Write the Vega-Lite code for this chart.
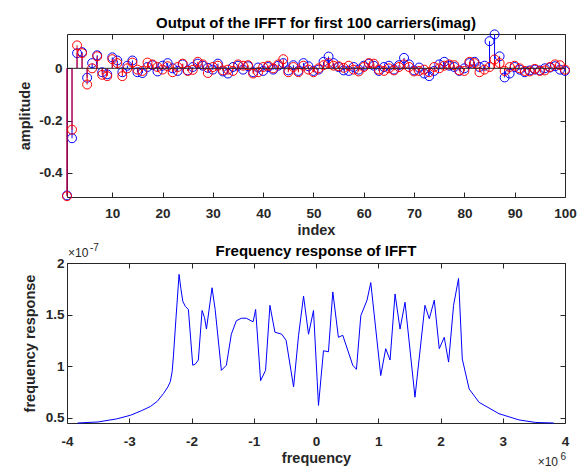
{
  "$schema": "https://vega.github.io/schema/vega-lite/v6.json",
  "padding": {"left": 17, "top": 15, "right": 10, "bottom": 0},
  "background": "white",
  "spacing": 4,
  "config": {
    "font": "Liberation Sans",
    "view": {"stroke": "#262626", "strokeWidth": 1},
    "axis": {"domain": false, "grid": false, "labelFlush": false, "tickColor": "#262626", "tickSize": -5, "labelFont": "Liberation Sans", "labelFontSize": 13.5, "labelFontWeight": "bold", "labelColor": "#262626", "titleFont": "Liberation Sans", "titleFontSize": 14.5, "titleFontWeight": "bold", "titleColor": "#262626", "labelPadding": 4},
    "title": {"font": "Liberation Sans", "fontSize": 15, "fontWeight": "bold", "color": "black", "frame": "group"}
  },
  "vconcat": [
    {
      "width": 498, "height": 163,
      "title": {"text": "Output of the IFFT for first 100 carriers(imag)", "offset": -3},
      "data": {"values": [
        {"i":1,"v":-0.487,"s":"b"},{"i":2,"v":-0.268,"s":"b"},{"i":3,"v":0.058,"s":"b"},{"i":4,"v":0.062,"s":"b"},{"i":5,"v":-0.036,"s":"b"},{"i":6,"v":0.02,"s":"b"},{"i":7,"v":0.05,"s":"b"},{"i":8,"v":-0.015,"s":"b"},{"i":9,"v":-0.023,"s":"b"},{"i":10,"v":0.042,"s":"b"},
        {"i":11,"v":0.03,"s":"b"},{"i":12,"v":-0.015,"s":"b"},{"i":13,"v":0.01,"s":"b"},{"i":14,"v":0.03,"s":"b"},{"i":15,"v":-0.015,"s":"b"},{"i":16,"v":-0.018,"s":"b"},{"i":17,"v":0.005,"s":"b"},{"i":18,"v":0.012,"s":"b"},{"i":19,"v":-0.012,"s":"b"},{"i":20,"v":0.01,"s":"b"},
        {"i":21,"v":0.02,"s":"b"},{"i":22,"v":0.0,"s":"b"},{"i":23,"v":-0.01,"s":"b"},{"i":24,"v":0.015,"s":"b"},{"i":25,"v":-0.008,"s":"b"},{"i":26,"v":0.005,"s":"b"},{"i":27,"v":0.018,"s":"b"},{"i":28,"v":0.01,"s":"b"},{"i":29,"v":0.002,"s":"b"},{"i":30,"v":-0.005,"s":"b"},
        {"i":31,"v":0.018,"s":"b"},{"i":32,"v":-0.012,"s":"b"},{"i":33,"v":-0.02,"s":"b"},{"i":34,"v":0.005,"s":"b"},{"i":35,"v":0.01,"s":"b"},{"i":36,"v":-0.005,"s":"b"},{"i":37,"v":0.008,"s":"b"},{"i":38,"v":-0.015,"s":"b"},{"i":39,"v":0.003,"s":"b"},{"i":40,"v":-0.01,"s":"b"},
        {"i":41,"v":0.005,"s":"b"},{"i":42,"v":-0.005,"s":"b"},{"i":43,"v":0.01,"s":"b"},{"i":44,"v":0.02,"s":"b"},{"i":45,"v":-0.008,"s":"b"},{"i":46,"v":0.012,"s":"b"},{"i":47,"v":-0.01,"s":"b"},{"i":48,"v":0.02,"s":"b"},{"i":49,"v":0.008,"s":"b"},{"i":50,"v":-0.01,"s":"b"},
        {"i":51,"v":-0.005,"s":"b"},{"i":52,"v":0.025,"s":"b"},{"i":53,"v":0.045,"s":"b"},{"i":54,"v":0.02,"s":"b"},{"i":55,"v":0.005,"s":"b"},{"i":56,"v":-0.008,"s":"b"},{"i":57,"v":-0.01,"s":"b"},{"i":58,"v":0.005,"s":"b"},{"i":59,"v":-0.005,"s":"b"},{"i":60,"v":0.01,"s":"b"},
        {"i":61,"v":0.018,"s":"b"},{"i":62,"v":0.01,"s":"b"},{"i":63,"v":-0.01,"s":"b"},{"i":64,"v":0.005,"s":"b"},{"i":65,"v":0.01,"s":"b"},{"i":66,"v":-0.005,"s":"b"},{"i":67,"v":0.012,"s":"b"},{"i":68,"v":0.04,"s":"b"},{"i":69,"v":0.015,"s":"b"},{"i":70,"v":-0.008,"s":"b"},
        {"i":71,"v":0.003,"s":"b"},{"i":72,"v":-0.02,"s":"b"},{"i":73,"v":-0.03,"s":"b"},{"i":74,"v":-0.01,"s":"b"},{"i":75,"v":0.015,"s":"b"},{"i":76,"v":0.025,"s":"b"},{"i":77,"v":0.01,"s":"b"},{"i":78,"v":0.005,"s":"b"},{"i":79,"v":-0.01,"s":"b"},{"i":80,"v":0.0,"s":"b"},
        {"i":81,"v":0.02,"s":"b"},{"i":82,"v":0.025,"s":"b"},{"i":83,"v":0.005,"s":"b"},{"i":84,"v":0.01,"s":"b"},{"i":85,"v":0.104,"s":"b"},{"i":86,"v":0.13,"s":"b"},{"i":87,"v":0.046,"s":"b"},{"i":88,"v":-0.035,"s":"b"},{"i":89,"v":-0.02,"s":"b"},{"i":90,"v":0.005,"s":"b"},
        {"i":91,"v":-0.005,"s":"b"},{"i":92,"v":-0.015,"s":"b"},{"i":93,"v":-0.008,"s":"b"},{"i":94,"v":-0.005,"s":"b"},{"i":95,"v":-0.008,"s":"b"},{"i":96,"v":0.0,"s":"b"},{"i":97,"v":0.003,"s":"b"},{"i":98,"v":0.008,"s":"b"},{"i":99,"v":-0.005,"s":"b"},{"i":100,"v":-0.01,"s":"b"},
        {"i":1,"v":-0.49,"s":"r"},{"i":2,"v":-0.235,"s":"r"},{"i":3,"v":0.088,"s":"r"},{"i":4,"v":0.058,"s":"r"},{"i":5,"v":-0.062,"s":"r"},{"i":6,"v":0.0,"s":"r"},{"i":7,"v":0.046,"s":"r"},{"i":8,"v":-0.025,"s":"r"},{"i":9,"v":-0.03,"s":"r"},{"i":10,"v":0.035,"s":"r"},
        {"i":11,"v":0.02,"s":"r"},{"i":12,"v":-0.03,"s":"r"},{"i":13,"v":0.0,"s":"r"},{"i":14,"v":0.022,"s":"r"},{"i":15,"v":-0.005,"s":"r"},{"i":16,"v":-0.01,"s":"r"},{"i":17,"v":0.022,"s":"r"},{"i":18,"v":0.015,"s":"r"},{"i":19,"v":0.005,"s":"r"},{"i":20,"v":-0.005,"s":"r"},
        {"i":21,"v":0.008,"s":"r"},{"i":22,"v":-0.015,"s":"r"},{"i":23,"v":0.005,"s":"r"},{"i":24,"v":0.018,"s":"r"},{"i":25,"v":-0.01,"s":"r"},{"i":26,"v":-0.006,"s":"r"},{"i":27,"v":0.025,"s":"r"},{"i":28,"v":0.015,"s":"r"},{"i":29,"v":-0.018,"s":"r"},{"i":30,"v":0.005,"s":"r"},
        {"i":31,"v":0.01,"s":"r"},{"i":32,"v":-0.008,"s":"r"},{"i":33,"v":-0.005,"s":"r"},{"i":34,"v":-0.01,"s":"r"},{"i":35,"v":0.015,"s":"r"},{"i":36,"v":0.01,"s":"r"},{"i":37,"v":0.012,"s":"r"},{"i":38,"v":-0.02,"s":"r"},{"i":39,"v":-0.015,"s":"r"},{"i":40,"v":0.005,"s":"r"},
        {"i":41,"v":0.01,"s":"r"},{"i":42,"v":0.0,"s":"r"},{"i":43,"v":0.015,"s":"r"},{"i":44,"v":0.035,"s":"r"},{"i":45,"v":-0.015,"s":"r"},{"i":46,"v":0.005,"s":"r"},{"i":47,"v":-0.015,"s":"r"},{"i":48,"v":0.01,"s":"r"},{"i":49,"v":-0.005,"s":"r"},{"i":50,"v":-0.015,"s":"r"},
        {"i":51,"v":0.0,"s":"r"},{"i":52,"v":0.012,"s":"r"},{"i":53,"v":0.02,"s":"r"},{"i":54,"v":0.01,"s":"r"},{"i":55,"v":0.008,"s":"r"},{"i":56,"v":0.002,"s":"r"},{"i":57,"v":0.01,"s":"r"},{"i":58,"v":-0.005,"s":"r"},{"i":59,"v":-0.012,"s":"r"},{"i":60,"v":0.005,"s":"r"},
        {"i":61,"v":0.02,"s":"r"},{"i":62,"v":0.018,"s":"r"},{"i":63,"v":-0.005,"s":"r"},{"i":64,"v":-0.01,"s":"r"},{"i":65,"v":0.0,"s":"r"},{"i":66,"v":-0.008,"s":"r"},{"i":67,"v":0.005,"s":"r"},{"i":68,"v":0.015,"s":"r"},{"i":69,"v":0.005,"s":"r"},{"i":70,"v":-0.012,"s":"r"},
        {"i":71,"v":-0.01,"s":"r"},{"i":72,"v":-0.005,"s":"r"},{"i":73,"v":-0.015,"s":"r"},{"i":74,"v":0.005,"s":"r"},{"i":75,"v":0.0,"s":"r"},{"i":76,"v":0.01,"s":"r"},{"i":77,"v":0.015,"s":"r"},{"i":78,"v":0.012,"s":"r"},{"i":79,"v":-0.008,"s":"r"},{"i":80,"v":-0.01,"s":"r"},
        {"i":81,"v":0.025,"s":"r"},{"i":82,"v":0.02,"s":"r"},{"i":83,"v":-0.015,"s":"r"},{"i":84,"v":-0.005,"s":"r"},{"i":85,"v":0.005,"s":"r"},{"i":86,"v":0.034,"s":"r"},{"i":87,"v":0.02,"s":"r"},{"i":88,"v":-0.01,"s":"r"},{"i":89,"v":0.005,"s":"r"},{"i":90,"v":0.01,"s":"r"},
        {"i":91,"v":0.0,"s":"r"},{"i":92,"v":-0.01,"s":"r"},{"i":93,"v":-0.012,"s":"r"},{"i":94,"v":-0.002,"s":"r"},{"i":95,"v":-0.01,"s":"r"},{"i":96,"v":-0.008,"s":"r"},{"i":97,"v":0.005,"s":"r"},{"i":98,"v":0.015,"s":"r"},{"i":99,"v":0.012,"s":"r"},{"i":100,"v":-0.005,"s":"r"}
      ]},
      "resolve": {"axis": {"x": "independent", "y": "independent"}},
      "layer": [
        {
          "transform": [{"filter": "datum.s === 'b'"}],
          "mark": {"type": "rule", "color": "#0000ff", "strokeWidth": 1},
          "encoding": {
            "x": {"field": "i", "type": "quantitative", "scale": {"domain": [1, 100], "nice": false, "zero": false},
                  "axis": {"orient": "bottom", "values": [10,20,30,40,50,60,70,80,90,100], "title": "index", "labelPadding": 14, "titlePadding": 4}},
            "y": {"field": "v", "type": "quantitative", "scale": {"domain": [-0.493, 0.1315], "nice": false, "zero": false},
                  "axis": {"orient": "left", "values": [-0.4,-0.2,0], "title": "amplitude", "labelExpr": "'' + datum.value", "labelPadding": 10, "titlePadding": 6}},
            "y2": {"datum": 0}
          }
        },
        {
          "transform": [{"filter": "datum.s === 'b'"}],
          "mark": {"type": "point", "shape": "circle", "filled": false, "color": "#0000ff", "size": 80, "strokeWidth": 1, "opacity": 1},
          "encoding": {
            "x": {"field": "i", "type": "quantitative", "axis": {"orient": "top", "values": [10,20,30,40,50,60,70,80,90,100], "labels": false, "title": null}},
            "y": {"field": "v", "type": "quantitative", "axis": {"orient": "right", "values": [-0.4,-0.2,0], "labels": false, "title": null}}
          }
        },
        {
          "transform": [{"filter": "datum.s === 'r'"}],
          "mark": {"type": "rule", "color": "#ff0000", "strokeWidth": 1},
          "encoding": {
            "x": {"field": "i", "type": "quantitative", "axis": null},
            "y": {"field": "v", "type": "quantitative", "axis": null},
            "y2": {"datum": 0}
          }
        },
        {
          "transform": [{"filter": "datum.s === 'r'"}],
          "mark": {"type": "point", "shape": "circle", "filled": false, "color": "#ff0000", "size": 80, "strokeWidth": 1, "opacity": 1},
          "encoding": {
            "x": {"field": "i", "type": "quantitative", "axis": null},
            "y": {"field": "v", "type": "quantitative", "axis": null}
          }
        },
        {
          "data": {"values": [{}]},
          "mark": {"type": "rule", "color": "#262626", "strokeWidth": 1},
          "encoding": {
            "y": {"datum": 0, "type": "quantitative", "axis": null}
          }
        }
      ]
    },
    {
      "width": 498, "height": 160,
      "title": {"text": "Frequency response of IFFT", "offset": -16},
      "data": {"values": [
        {"f":-3.83,"r":0.45},{"f":-3.5,"r":0.46},{"f":-3.2,"r":0.49},{"f":-2.98,"r":0.525},{"f":-2.8,"r":0.57},{"f":-2.66,"r":0.61},{"f":-2.55,"r":0.66},{"f":-2.45,"r":0.735},{"f":-2.38,"r":0.8},{"f":-2.34,"r":0.85},
        {"f":-2.31,"r":0.95},{"f":-2.29,"r":1.1},{"f":-2.25,"r":1.46},{"f":-2.2,"r":1.89},{"f":-2.17,"r":1.75},{"f":-2.14,"r":1.63},{"f":-2.1,"r":1.58},{"f":-2.05,"r":1.55},{"f":-1.98,"r":1.01},{"f":-1.94,"r":1.02},
        {"f":-1.89,"r":1.06},{"f":-1.83,"r":1.54},{"f":-1.79,"r":1.47},{"f":-1.76,"r":1.36},{"f":-1.67,"r":1.76},{"f":-1.62,"r":1.55},{"f":-1.52,"r":0.96},{"f":-1.44,"r":1.01},{"f":-1.36,"r":1.31},{"f":-1.28,"r":1.44},
        {"f":-1.2,"r":1.465},{"f":-1.12,"r":1.465},{"f":-1.01,"r":1.43},{"f":-0.97,"r":1.55},{"f":-0.89,"r":0.86},{"f":-0.81,"r":0.96},{"f":-0.74,"r":1.59},{"f":-0.66,"r":1.33},{"f":-0.55,"r":1.31},{"f":-0.48,"r":1.25},
        {"f":-0.36,"r":0.8},{"f":-0.28,"r":1.3},{"f":-0.2,"r":1.68},{"f":-0.12,"r":1.31},{"f":-0.04,"r":1.54},{"f":0.02,"r":0.85},{"f":0.04,"r":0.62},{"f":0.12,"r":1.15},{"f":0.2,"r":1.14},{"f":0.27,"r":1.72},
        {"f":0.36,"r":1.28},{"f":0.43,"r":1.3},{"f":0.59,"r":1.01},{"f":0.65,"r":0.97},{"f":0.72,"r":1.49},{"f":0.82,"r":1.64},{"f":0.88,"r":1.81},{"f":1.04,"r":0.91},{"f":1.12,"r":1.17},{"f":1.19,"r":1.06},
        {"f":1.27,"r":1.7},{"f":1.35,"r":1.36},{"f":1.43,"r":1.62},{"f":1.59,"r":0.7},{"f":1.75,"r":1.59},{"f":1.82,"r":1.46},{"f":1.9,"r":1.64},{"f":1.98,"r":1.17},{"f":2.06,"r":1.28},{"f":2.13,"r":1.04},
        {"f":2.21,"r":1.59},{"f":2.29,"r":1.85},{"f":2.35,"r":1.07},{"f":2.46,"r":0.78},{"f":2.62,"r":0.65},{"f":2.94,"r":0.54},{"f":3.26,"r":0.48},{"f":3.53,"r":0.455},{"f":3.82,"r":0.45}
      ]},
      "resolve": {"axis": {"x": "independent", "y": "independent"}},
      "layer": [
        {
          "mark": {"type": "line", "color": "#0000ff", "strokeWidth": 1},
          "encoding": {
            "x": {"field": "f", "type": "quantitative", "scale": {"domain": [-4, 4], "nice": false, "zero": false},
                  "axis": {"orient": "bottom", "values": [-4,-3,-2,-1,0,1,2,3,4], "title": "frequency", "labelExpr": "'' + datum.value", "labelPadding": 16, "titlePadding": 4}},
            "y": {"field": "r", "type": "quantitative", "scale": {"domain": [0.45, 2], "nice": false, "zero": false},
                  "axis": {"orient": "left", "values": [0.5,1,1.5,2], "title": "frequency response", "labelExpr": "'' + datum.value", "labelPadding": 8, "titlePadding": 8}}
          }
        },
        {
          "data": {"values": [{}]},
          "mark": {"type": "text", "text": "×10", "align": "left", "baseline": "alphabetic", "dx": 1, "dy": -6, "fontSize": 12, "font": "Liberation Sans", "color": "#262626"},
          "encoding": {
            "x": {"datum": -4, "type": "quantitative", "axis": {"orient": "top", "values": [-4,-3,-2,-1,0,1,2,3,4], "labels": false, "title": null}},
            "y": {"datum": 2, "type": "quantitative", "axis": {"orient": "right", "values": [0.5,1,1.5,2], "labels": false, "title": null}}
          }
        },
        {
          "data": {"values": [{}]},
          "mark": {"type": "text", "text": "-7", "align": "left", "baseline": "alphabetic", "dx": 23, "dy": -12, "fontSize": 10, "font": "Liberation Sans", "color": "#262626"},
          "encoding": {
            "x": {"datum": -4, "type": "quantitative", "axis": null},
            "y": {"datum": 2, "type": "quantitative", "axis": null}
          }
        },
        {
          "data": {"values": [{}]},
          "mark": {"type": "text", "text": "×10", "align": "right", "baseline": "alphabetic", "dx": -7, "dy": 43, "fontSize": 12, "font": "Liberation Sans", "color": "#262626"},
          "encoding": {
            "x": {"datum": 4, "type": "quantitative", "axis": null},
            "y": {"datum": 0.45, "type": "quantitative", "axis": null}
          }
        },
        {
          "data": {"values": [{}]},
          "mark": {"type": "text", "text": "6", "align": "right", "baseline": "alphabetic", "dx": 1, "dy": 37, "fontSize": 10, "font": "Liberation Sans", "color": "#262626"},
          "encoding": {
            "x": {"datum": 4, "type": "quantitative", "axis": null},
            "y": {"datum": 0.45, "type": "quantitative", "axis": null}
          }
        }
      ]
    }
  ]
}
